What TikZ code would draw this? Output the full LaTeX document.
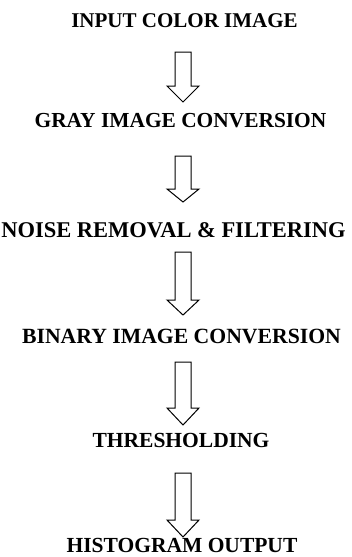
\documentclass[tikz,border=0pt]{standalone}
\usepackage{fontspec}
\setmainfont{Liberation Serif}
\begin{document}
\begin{tikzpicture}[x=1pt,y=-1pt,
  label/.style={inner sep=0pt, anchor=base, font=\fontsize{#1}{24}\selectfont\bfseries},
  label/.default=21.5,
  blockarrow/.style={draw=black, line width=1pt, fill=white, line join=miter}]
\useasboundingbox (0,0) rectangle (352,557);
\node[label=21] (t1) at (184.5,27) {INPUT COLOR IMAGE};
\node[label=21.4] (t2) at (180.5,127) {GRAY IMAGE CONVERSION};
\node[label=22.5] (t3) at (173.5,237) {NOISE REMOVAL \& FILTERING};
\node[label=21.7] (t4) at (181.5,343) {BINARY IMAGE CONVERSION};
\node[label=21.5] (t5) at (181,447) {THRESHOLDING};
\node[label=21.5] (t6) at (182,552) {HISTOGRAM OUTPUT};
% block arrows: top, head base, tip
\foreach \top/\hb/\tip in {52/86/102, 156/189/202, 252/300/315, 362/408/425, 473/520/537}{
  \draw[blockarrow] (175,\top) -- (191,\top) -- (191,\hb) -- (199,\hb) -- (183,\tip)
     -- (167,\hb) -- (175,\hb) -- cycle;
}
\end{tikzpicture}
\end{document}
